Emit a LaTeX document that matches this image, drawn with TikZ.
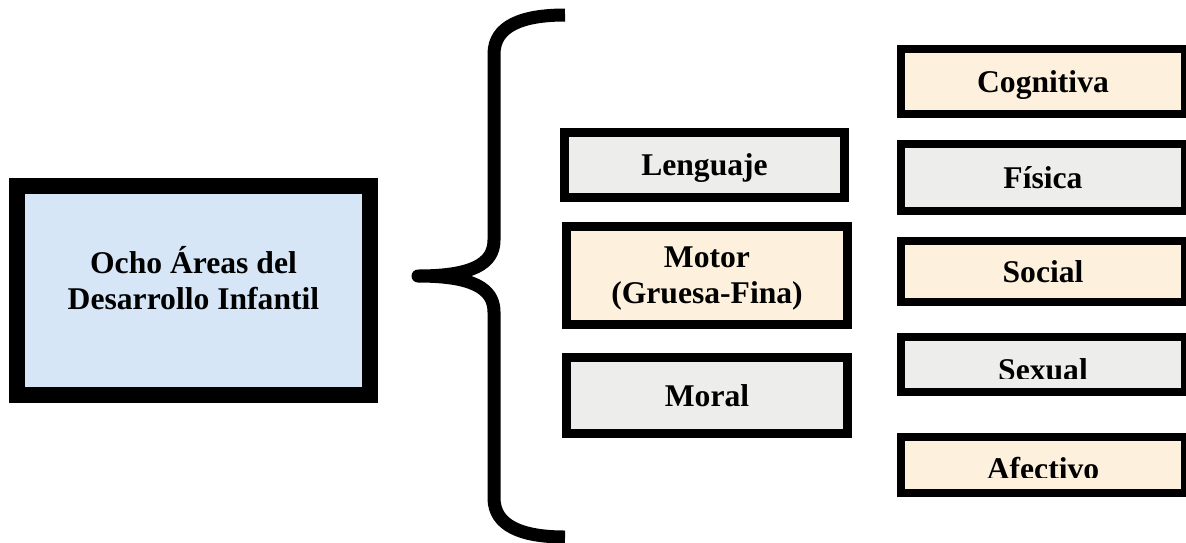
\documentclass[tikz,border=0pt]{standalone}
\usepackage{fontspec}
\setmainfont{Liberation Serif}
\usepackage{tikz}

\definecolor{areablue}{HTML}{D6E6F6}
\definecolor{areagray}{HTML}{EDEDEB}
\definecolor{areabeige}{HTML}{FDF0DC}

\begin{document}
\begin{tikzpicture}[x=0.02cm, y=-0.02cm,
        font=\fontsize{18}{20.5}\selectfont\bfseries,
        area/.style={draw=black, line width=5.1pt, inner sep=0pt, align=center, text depth=0pt},
        grayarea/.style={area, fill=areagray, minimum width=5.6cm},
        beigearea/.style={area, fill=areabeige, minimum width=5.6cm},
        rightarea/.style={line width=4.5pt, minimum width=5.68cm}]
        \useasboundingbox (0, 0) rectangle (1186, 542);

        \node[area, fill=areablue, line width=9.07pt, minimum width=7.06cm, minimum height=4.18cm, text depth=14.7pt] (ocho) at (193.5, 290.5) {Ocho Áreas del\\Desarrollo Infantil};

        \draw[line width=7.4pt, line join=round] (565, 15) .. controls (522, 15) and (494, 26) .. (494, 54) -- (494, 240)
            .. controls (494, 264) and (472, 276) .. (418, 276)
            .. controls (472, 276) and (494, 288) .. (494, 312) -- (494, 498)
            .. controls (494, 526) and (522, 537) .. (565, 537);

        \node[grayarea, minimum height=1.3cm] (lenguaje) at (704.5, 165) {Lenguaje};
        \node[beigearea, minimum width=5.62cm, minimum height=1.96cm] (motor) at (707, 275.5) {Motor\\(Gruesa-Fina)};
        \node[grayarea, minimum width=5.62cm, minimum height=1.52cm] (moral) at (707, 395.5) {Moral};

        \node[beigearea, rightarea, minimum height=1.3cm] (cognitiva) at (1043, 81.5) {Cognitiva};
        \node[grayarea, rightarea, minimum height=1.34cm] (fisica) at (1043, 177.5) {Física};
        \node[beigearea, rightarea, minimum height=1.22cm] (social) at (1043, 271.5) {Social};
        \node[grayarea, rightarea, minimum height=1.1cm] (sexual) at (1043, 364.5) {};
        \node[beigearea, rightarea, minimum height=1.12cm] (afectivo) at (1043, 465) {};

        \begin{scope}
            \clip (905, 341) rectangle (1181, 378);
            \node[anchor=base] (sexualtxt) at (1043, 380) {Sexual};
        \end{scope}
        \begin{scope}
            \clip (905, 442) rectangle (1181, 477);
            \node[anchor=base] (afectivotxt) at (1043, 479) {Afectivo};
        \end{scope}

    \end{tikzpicture}
\end{document}
